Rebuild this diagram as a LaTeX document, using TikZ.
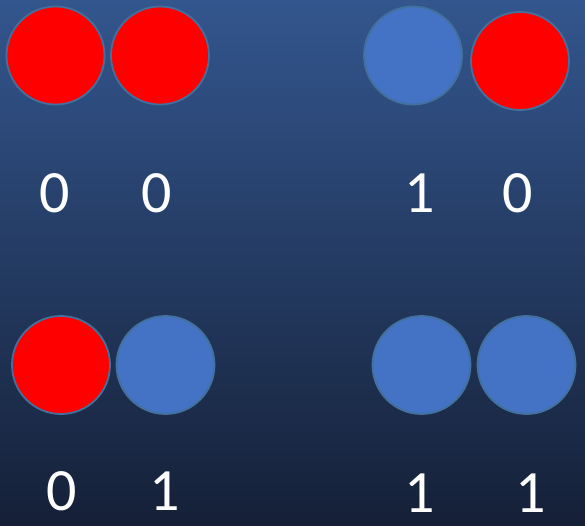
\documentclass[tikz,border=0pt]{standalone}
\usepackage{fontspec}
\setmainfont{Carlito}
\definecolor{bgtop}{RGB}{51,86,142}
\definecolor{bgbot}{RGB}{21,32,55}
\definecolor{ballblue}{RGB}{68,114,196}
\definecolor{ballred}{RGB}{255,0,0}
\definecolor{rimcol}{RGB}{65,113,156}
\begin{document}
\begin{tikzpicture}[x=1pt,y=-1pt,
  ball/.style={circle,draw=rimcol,line width=1.8pt,minimum size=98pt,inner sep=0pt},
  redball/.style={ball,fill=ballred},
  blueball/.style={ball,fill=ballblue},
  digit/.style={text=white,font=\fontsize{60}{60}\selectfont,inner sep=0pt,anchor=base}]
\shade[top color=bgtop,bottom color=bgbot] (0,0) rectangle (585,525);
\useasboundingbox (0,0) rectangle (585,525);
% top-left pair
\node[redball] (a1) at (55.5,55.5) {};
\node[redball] (a2) at (160,55.5) {};
\node[digit] (la1) at (55,212) {0};
\node[digit] (la2) at (157,212) {0};
% top-right pair
\node[blueball] (b1) at (413,55.5) {};
\node[redball] (b2) at (520,61) {};
\node[digit] (lb1) at (420,212) {1};
\node[digit] (lb2) at (518,212) {0};
% bottom-left pair
\node[redball] (c1) at (61,365) {};
\node[blueball] (c2) at (165.5,365) {};
\node[digit] (lc1) at (62,510) {0};
\node[digit] (lc2) at (165,510) {1};
% bottom-right pair
\node[blueball] (d1) at (421.5,365) {};
\node[blueball] (d2) at (526.5,365) {};
\node[digit] (ld1) at (420,512) {1};
\node[digit] (ld2) at (531,512) {1};
\end{tikzpicture}
\end{document}
